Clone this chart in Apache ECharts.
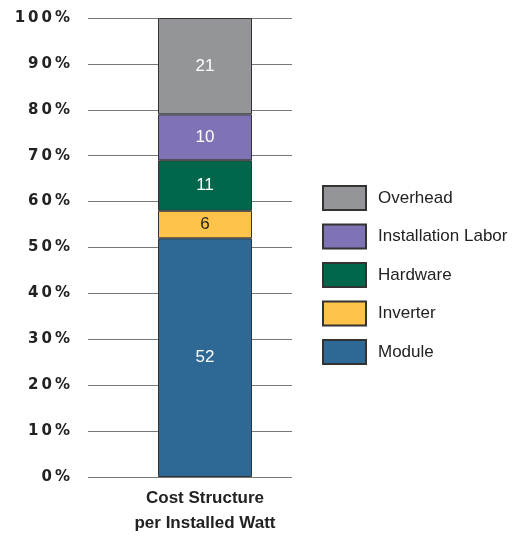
<!DOCTYPE html>
<html><head><meta charset="utf-8">
<script src="https://cdn.jsdelivr.net/npm/echarts@6/dist/echarts.min.js"></script>
<style>html,body{margin:0;padding:0;background:#fff}#c{width:518px;height:537px}</style>
</head><body><div id="c"></div>
<script>
const categories = ['Cost Structure\nper Installed Watt'];
const seriesNames = ['Module', 'Inverter', 'Hardware', 'Installation Labor', 'Overhead'];
const module = [52];
const inverter = [6];
const hardware = [11];
const installationLabor = [10];
const overhead = [21];
const colors = ['#2E6894', '#FEC34A', '#00674C', '#8073B5', '#939598'];
const labelColors = ['#fff', '#222', '#fff', '#fff', '#fff'];
const yTicks = [0, 10, 20, 30, 40, 50, 60, 70, 80, 90, 100];

const values = [module, inverter, hardware, installationLabor, overhead];
const chart = echarts.init(document.getElementById('c'));
const narrow = "'Liberation Sans Narrow', 'Arial Narrow', 'Liberation Sans', sans-serif";
chart.setOption({
  animation: false,
  grid: [
    {left: 88, top: 18, width: 204, height: 459},
    {left: 158, top: 18, width: 94, height: 459}
  ],
  xAxis: [
    {gridIndex: 0, type: 'category', data: [''], show: false},
    {gridIndex: 1, type: 'category', data: categories,
     axisLine: {show: false}, axisTick: {show: false},
     axisLabel: {fontFamily: narrow, fontWeight: 'bold', fontSize: 17, color: '#222', lineHeight: 25, margin: 9}}
  ],
  yAxis: [
    {gridIndex: 0, type: 'value', min: 0, max: 100, interval: 10,
     axisLine: {show: false}, axisTick: {show: false},
     splitLine: {lineStyle: {color: '#777', width: 1}},
     axisLabel: {margin: 18, fontFamily: "'DejaVu Sans', sans-serif", fontWeight: 'bold', fontSize: 15, color: '#222',
       formatter: v => yTicks.includes(v) ? (v + '%').split('').join('\u2009') : ''}},
    {gridIndex: 1, type: 'value', min: 0, max: 100, interval: 10, show: false}
  ],
  legend: {
    orient: 'vertical', left: 317, top: 180, icon: 'rect',
    itemWidth: 43, itemHeight: 24, itemGap: 12.5,
    data: seriesNames.slice().reverse(),
    textStyle: {fontFamily: narrow, fontSize: 17, color: '#222', padding: [0, 0, 0, 7]}
  },
  series: seriesNames.map((n, i) => ({
    name: n, type: 'bar', stack: 'total', xAxisIndex: 1, yAxisIndex: 1,
    barWidth: '100%', data: values[i],
    itemStyle: {color: colors[i], borderColor: '#333', borderWidth: 1},
    label: {show: true, position: 'inside', fontFamily: "'Liberation Sans', sans-serif", fontSize: 17, color: labelColors[i]}
  }))
});
</script></body></html>
